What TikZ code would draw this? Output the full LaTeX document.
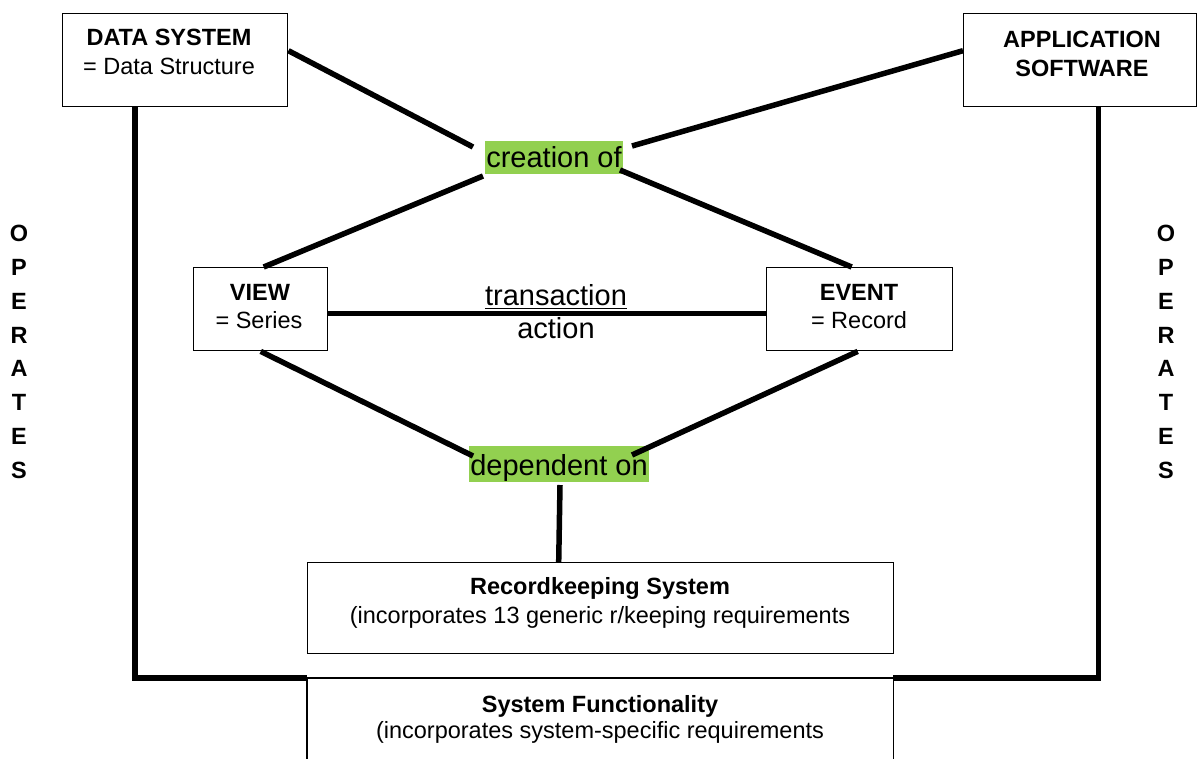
\documentclass[tikz,border=0pt]{standalone}
\usepackage{fontspec}
\setmainfont{Liberation Sans}
\definecolor{hlgreen}{RGB}{146,208,80}
\begin{document}
\begin{tikzpicture}[x=1pt,y=-1pt,
 box/.style={draw, line width=1.4pt, inner sep=0, anchor=north west},
 sm/.style={font=\fontsize{23.5}{28}\selectfont, inner sep=0, anchor=base},
 smb/.style={sm, font=\fontsize{23.5}{28}\selectfont\bfseries},
 lg/.style={font=\fontsize{29}{34}\selectfont, inner sep=0, anchor=base},
 hl/.style={lg, fill=hlgreen},
 conn/.style={line width=5.5pt},
 vert/.style={font=\fontsize{23.5}{33.8}\selectfont\bfseries, align=center, inner sep=0, anchor=north}]
\useasboundingbox (0,0) rectangle (1197,758);

% boxes
\node[box, minimum width=225, minimum height=93] (ds) at (62,13) {};
\node[box, minimum width=233, minimum height=93] (app) at (963,13) {};
\node[box, minimum width=134, minimum height=83] (view) at (193,267) {};
\node[box, minimum width=186, minimum height=83] (event) at (766,267) {};
\node[box, minimum width=586, minimum height=91] (rk) at (307,562) {};
\node[inner sep=0, minimum width=586, minimum height=90, anchor=north west] (sf) at (307,678) {};
\draw[line width=1.4pt] (sf.south west) -- (sf.north west) -- (sf.north east) -- (sf.south east);

% box texts
\node[smb] (dst1) at (169,45) {DATA SYSTEM};
\node[sm] (dst2) at (169,74) {= Data Structure};
\node[smb] (appt1) at (1082,47) {APPLICATION};
\node[smb] (appt2) at (1082,76) {SOFTWARE};
\node[smb] (vt1) at (260,300) {VIEW};
\node[sm] (vt2) at (259,328) {= Series};
\node[smb] (et1) at (859,300) {EVENT};
\node[sm] (et2) at (859,328) {= Record};
\node[smb] (rkt1) at (600,594) {Recordkeeping System};
\node[sm] (rkt2) at (600,623) {(incorporates 13 generic r/keeping requirements};
\node[smb] (sft1) at (600,712) {System Functionality};
\node[sm] (sft2) at (600,738) {(incorporates system-specific requirements};

% highlighted labels
\node[hl, text height=26, text depth=7, minimum width=138] (cre) at (554,167) {creation of};
\node[hl, text height=29, text depth=7, minimum width=180] (dep) at (559,475) {dependent on};

% transaction / action
\node[lg, text depth=3] (tr) at (556,305) {transaction};
\draw[line width=1.3pt] (tr.south west) -- (tr.south east);
\node[lg] (ac) at (556,338) {action};

% OPERATES
\node[vert] (opl) at (19,225) {O\\P\\E\\R\\A\\T\\E\\S};
\node[vert] (opr) at (1166,225) {O\\P\\E\\R\\A\\T\\E\\S};

% connector end points near labels
\coordinate (c1) at (473,147);
\coordinate (c2) at (632,146);
\coordinate (c3) at (483,176);
\coordinate (c4) at (620,170);
\coordinate (c5) at (473,456);
\coordinate (c6) at (632,455);
\coordinate (c7) at (560,485);

% connectors
\draw[conn] ([yshift=9.5pt]ds.east) -- (c1);
\draw[conn] ([yshift=9.5pt]app.west) -- (c2);
\draw[conn] (c3) -- ([xshift=3pt]view.north);
\draw[conn] (c4) -- ([xshift=-8pt]event.north);
\draw[conn] ([yshift=-4.5pt]view.east) -- ([yshift=-4.5pt]event.west);
\draw[conn] (view.south) -- (c5);
\draw[conn] ([xshift=-2pt]event.south) -- (c6);
\draw[conn] (c7) -- ([xshift=-42pt]rk.north);
\draw[conn] ([xshift=-40pt]ds.south) |- (sf.north west);
\draw[conn] ([xshift=18.5pt]app.south) |- (sf.north east);
\end{tikzpicture}
\end{document}
